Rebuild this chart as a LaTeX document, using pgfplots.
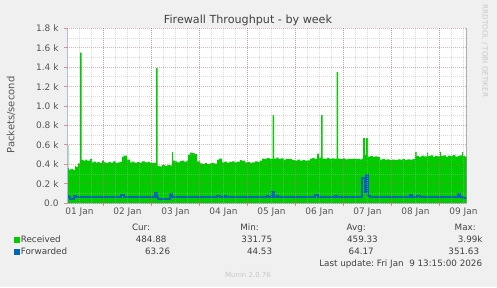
\documentclass[border=0pt]{standalone}
\usepackage{pgfplots}
\pgfplotsset{compat=1.18}
\usepackage{fontspec}
\setmainfont{DejaVu Sans}
\usetikzlibrary{arrows.meta}
\definecolor{bg}{HTML}{F0F0F0}
\definecolor{recv}{HTML}{00CC00}
\definecolor{fwd}{HTML}{0066B3}
\definecolor{majgrid}{HTML}{D05050}
\definecolor{mingrid}{HTML}{B0B0B0}
\definecolor{axiscol}{HTML}{B8BEF0}
\definecolor{txt}{HTML}{555555}
\definecolor{wm}{HTML}{C8C8C8}

\pgfplotstableread{
d v
0.2396 668
0.2500 600
0.2667 360
0.2800 345
0.3021 350
0.3300 355
0.3600 345
0.4063 384
0.4300 375
0.4688 410
0.5104 1550
0.5417 445
0.5800 440
0.6200 450
0.6600 438
0.7188 455
0.7604 420
0.8000 428
0.8400 418
0.8800 425
0.9200 415
0.9688 440
1.0104 420
1.0500 412
1.1000 425
1.1500 418
1.2000 430
1.2500 415
1.3000 422
1.3500 428
1.3854 480
1.4300 490
1.4896 450
1.5521 420
1.6000 428
1.6500 415
1.7000 425
1.7500 418
1.8000 430
1.8646 422
1.9200 426
1.9688 415
2.0938 1390
2.1250 385
2.1700 380
2.2200 392
2.2813 386
2.3300 395
2.3800 390
2.4271 530
2.4500 440
2.4896 430
2.5400 422
2.5900 435
2.6354 440
2.6800 428
2.7300 440
2.7604 500
2.8000 520
2.8500 515
2.9000 505
2.9479 430
3.0104 410
3.0600 405
3.1100 412
3.1600 402
3.2100 410
3.2600 415
3.3100 408
3.3646 445
3.4000 460
3.4688 420
3.5200 428
3.5700 418
3.6200 425
3.6771 430
3.7300 420
3.7800 428
3.8438 445
3.8800 440
3.9479 420
4.0000 425
4.0500 415
4.1000 422
4.1563 430
4.2100 425
4.2600 438
4.3021 460
4.3500 455
4.4000 465
4.4600 458
4.5208 910
4.5521 460
4.6000 470
4.6500 455
4.7000 462
4.7500 450
4.8000 458
4.8600 455
4.9271 445
4.9800 440
5.0400 448
5.0938 440
5.1500 445
5.2000 438
5.2500 442
5.3021 460
5.3500 468
5.4000 455
5.4479 510
5.4900 470
5.5313 910
5.5625 460
5.6100 458
5.6600 468
5.7100 455
5.7600 462
5.8100 458
5.8542 1350
5.8854 460
5.9400 455
5.9900 462
6.0400 452
6.0900 458
6.1354 455
6.1900 460
6.2400 455
6.2900 458
6.3400 452
6.3854 460
6.4063 670
6.4479 500
6.4688 670
6.5104 480
6.5600 485
6.6100 478
6.6600 482
6.7100 475
6.7604 450
6.8100 455
6.8600 448
6.9100 452
6.9600 445
7.0100 450
7.0729 445
7.1300 452
7.1800 448
7.2300 455
7.2800 447
7.3300 452
7.3900 450
7.4400 455
7.4896 530
7.5208 485
7.5700 478
7.6200 490
7.6700 482
7.7396 520
7.7604 485
7.8100 492
7.8600 480
7.9100 488
7.9600 482
8.0104 530
8.0313 485
8.0800 492
8.1300 480
8.1800 490
8.2300 484
8.2800 495
8.3300 480
8.3800 488
8.4300 492
8.4688 530
8.4896 485
8.5300 480
8.5625 485
}\recvtable

\pgfplotstableread{
d v
0.2396 75
0.2708 60
0.3021 45
0.3854 75
0.4271 60
1.3646 82
1.4271 60
2.0729 103
2.1146 60
2.1250 45
2.3854 96
2.4271 60
3.3646 80
3.4271 60
3.5313 70
3.5521 60
4.4063 80
4.4271 60
4.5104 120
4.5521 60
4.6146 70
4.6354 60
5.4063 85
5.4688 60
5.8229 78
5.8646 60
6.3854 263
6.4479 120
6.4688 291
6.5104 70
6.5521 60
7.3854 85
7.4271 60
7.5313 75
7.5938 60
8.3854 95
8.4271 60
8.4896 50
8.5625 50
}\fwdtable

\begin{document}
\begin{tikzpicture}[x=1bp,y=1bp]
\fill[bg] (0,0) rectangle (497,287);
\begin{axis}[
  at={(67bp,83.7bp)}, anchor=south west,
  scale only axis, width=399.5bp, height=175bp,
  xmin=0.2396, xmax=8.5625, ymin=0, ymax=1800,
  axis background/.style={fill=white},
  axis line style={draw=none},
  axis on top,
  xtick={1,2,3,4,5,6,7,8},
  xticklabels={},
  minor xtick={0.25,0.5,...,8.5},
  extra x ticks={0.5,1.5,2.5,3.5,4.5,5.5,6.5,7.5,8.5},
  extra x tick labels={01 Jan,02 Jan,03 Jan,04 Jan,05 Jan,06 Jan,07 Jan,08 Jan,09 Jan},
  extra x tick style={grid=none, major tick length=0pt, tick style={draw=none}},
  ytick={0,200,...,1800},
  yticklabels={0.0,0.2 k,0.4 k,0.6 k,0.8 k,1.0 k,1.2 k,1.4 k,1.6 k,1.8 k},
  minor ytick={100,300,...,1700},
  grid=both,
  major grid style={draw=majgrid, opacity=0.45, line width=1bp, dash pattern=on 1bp off 1bp},
  minor grid style={draw=mingrid, opacity=0.45, line width=1bp, dash pattern=on 1bp off 1bp},
  tick style={draw=majgrid, opacity=0.6, line width=1bp},
  major tick length=3bp, minor tick length=0pt,
  tick align=outside,
  xtick pos=bottom, ytick pos=left,
  ticklabel style={font=\fontsize{9}{10}\selectfont, text=txt},
  yticklabel style={xshift=-2bp},
  xticklabel style={yshift=-1bp},
]
\addplot[draw=none, fill=recv, const plot] table[x=d, y=v] {\recvtable} \closedcycle;
\addplot[draw=fwd, line width=2bp, const plot] table[x=d, y=v] {\fwdtable};
\draw[axiscol, line width=1bp, -{Triangle[length=5bp,width=5bp]}] (rel axis cs:0,0) -- (rel axis cs:0,1.04);
\draw[axiscol, line width=1bp, -{Triangle[length=5bp,width=5bp]}] (rel axis cs:0,0) -- (rel axis cs:1.015,0);
\draw[gray, line width=1bp] (rel axis cs:1,0) -- (rel axis cs:1,1);
\end{axis}
% title and labels
\node[text=black!75, font=\fontsize{11.2}{12}\selectfont] at (248,267) {Firewall Throughput - by week};
\node[rotate=90, text=txt, font=\fontsize{10}{11}\selectfont] at (11,172) {Packets/second};
\node[rotate=-90, text=wm, font=\fontsize{7.2}{8}\selectfont] at (485,236) {RRDTOOL / TOBI OETIKER};
% legend
\begin{scope}[every node/.style={text=black!75, font=\fontsize{8.8}{10}\selectfont, inner sep=0pt}]
\node[anchor=base east] at (150.3,57) {Cur:};
\node[anchor=base east] at (259,57) {Min:};
\node[anchor=base east] at (366,57) {Avg:};
\node[anchor=base east] at (476,57) {Max:};
\fill[recv] (14,44.3) rectangle (19.5,49.7);
\node[anchor=base west] at (20.7,44.5) {Received};
\node[anchor=base east] at (166.7,44.5) {484.88};
\node[anchor=base east] at (272.3,44.5) {331.75};
\node[anchor=base east] at (378,44.5) {459.33};
\node[anchor=base east] at (482.7,44.5) {3.99k};
\fill[fwd] (14,32.5) rectangle (19.5,37.9);
\node[anchor=base west] at (20.7,32.5) {Forwarded};
\node[anchor=base east] at (170.3,32.5) {63.26};
\node[anchor=base east] at (272.3,32.5) {44.53};
\node[anchor=base east] at (374,32.5) {64.17};
\node[anchor=base east] at (479.3,32.5) {351.63};
\node[anchor=base east] at (482.3,21) {Last update:\ Fri Jan\ \ 9 13:15:00 2026};
\end{scope}
\node[text=wm, font=\fontsize{7}{8}\selectfont] at (248,12.3) {Munin 2.0.76};
\end{tikzpicture}
\end{document}
